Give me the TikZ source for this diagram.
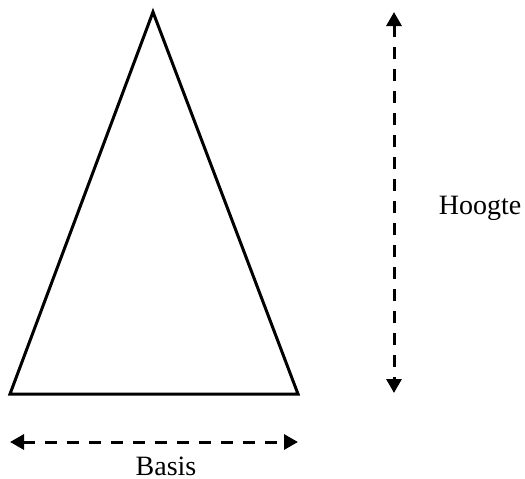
\documentclass[tikz,border=0pt]{standalone}
\usepackage{fontspec}
\setmainfont{Liberation Serif}
\usetikzlibrary{arrows.meta}

\begin{document}
\begin{tikzpicture}[x=1pt, y=-1pt, every node/.style={font=\fontsize{28}{32}\selectfont, inner sep=0pt}]
  \tikzset{side/.style={line width=3pt, line join=miter},
    measure/.style={line width=3pt, dash pattern=on 12pt off 10pt,
      {Triangle[length=14pt, width=15pt]}-{Triangle[length=14pt, width=15pt]}}}
  \useasboundingbox (0,0) rectangle (525,479);
  \coordinate (apex)  at (153, 12);
  \coordinate (left)  at ( 10,394);
  \coordinate (right) at (298,394);
  \coordinate (htop)  at (394, 12);
  \coordinate (hbot)  at (394,393);
  \coordinate (bleft)  at ( 10,442);
  \coordinate (bright) at (298,442);
  \draw[side] (left) -- (apex) -- (right) -- cycle;
  \draw[measure] (htop) -- (hbot);
  \draw[measure] (bleft) -- (bright);
  \node[anchor=base] (hoogte) at (480,214) {Hoogte};
  \node[anchor=base] (basis) at (166,475) {Basis};
\end{tikzpicture}
\end{document}
